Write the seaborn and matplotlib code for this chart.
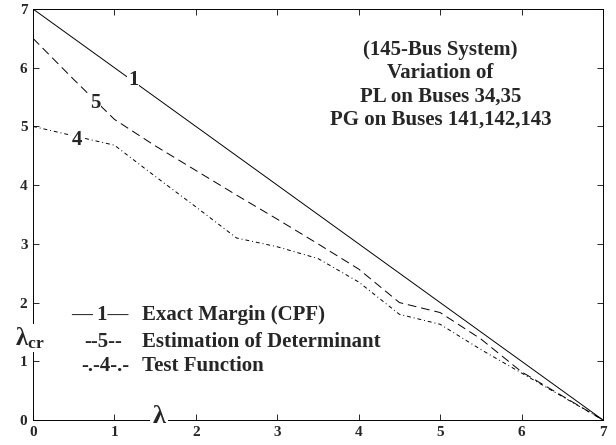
import numpy as np
import pandas as pd
import matplotlib
matplotlib.use("Agg")
import matplotlib.pyplot as plt
import seaborn as sns

# ---- data ----
lam = [0, 0.5, 1, 1.5, 2, 2.5, 3, 3.5, 4, 4.5, 5, 5.5, 6, 6.5, 7]
exact_cpf = [7, 6.5, 6, 5.5, 5, 4.5, 4, 3.5, 3, 2.5, 2, 1.5, 1, 0.5, 0]
estimation_det = [6.5, 5.8, 5.12, 4.67, 4.25, 3.83, 3.42, 3.0, 2.57, 2.0, 1.83, 1.38, 0.82, 0.41, 0]
test_function = [5.0, 4.84, 4.68, 4.15, 3.63, 3.1, 2.95, 2.75, 2.35, 1.8, 1.63, 1.2, 0.8, 0.4, 0]

xticks = [0, 1, 2, 3, 4, 5, 6, 7]
yticks = [0, 1, 2, 3, 4, 5, 6, 7]

title_lines = ["(145-Bus System)", "Variation of", "PL on Buses 34,35", "PG on Buses 141,142,143"]
legend_marks = ["\u2014 1\u2014", "--5--", "-.-4-.-"]
legend_texts = ["Exact Margin (CPF)", "Estimation of Determinant", "Test Function"]
curve_labels = ["1", "5", "4"]
label_pos = [(1.23, 5.79), (0.76, 5.40), (0.54, 4.77)]

df = pd.DataFrame({"lam": lam, "c1": exact_cpf, "c5": estimation_det, "c4": test_function})

sns.set_style("ticks")
plt.rcParams["font.family"] = ["Liberation Serif", "DejaVu Serif"]
plt.rcParams["mathtext.fontset"] = "custom"
plt.rcParams["mathtext.rm"] = "Liberation Serif:bold"
plt.rcParams["mathtext.it"] = "Liberation Serif:bold"
plt.rcParams["mathtext.bf"] = "Liberation Serif:bold"

fig = plt.figure(figsize=(6.16, 4.45), dpi=100)
ax = fig.add_axes([33 / 616, 25 / 445, 570 / 616, 411 / 445])

sns.lineplot(data=df, x="lam", y="c1", ax=ax, color="black", lw=0.7)
sns.lineplot(data=df, x="lam", y="c5", ax=ax, color="black", lw=0.7)
ax.lines[-1].set_dashes([9, 5])
sns.lineplot(data=df, x="lam", y="c4", ax=ax, color="black", lw=0.7)
ax.lines[-1].set_dashes([4, 3, 1, 3])

ax.set_xlim(0, 7)
ax.set_ylim(0, 7)
ax.set_xticks(xticks)
ax.set_yticks(yticks)
ax.set_xticklabels([str(t) for t in xticks], fontweight="bold", fontsize=11)
ax.set_yticklabels([str(t) for t in yticks], fontweight="bold", fontsize=11)
ax.tick_params(direction="in", length=4, width=0.7, top=True, right=True)
ax.tick_params(axis="x", pad=4)
ax.tick_params(axis="y", pad=4)
for s in ax.spines.values():
    s.set_visible(True)
    s.set_linewidth(0.7)
    s.set_color("black")
ax.set_xlabel("")
ax.set_ylabel("")

for lbl, (x, y) in zip(curve_labels, label_pos):
    ax.text(x, y, lbl, fontsize=15, fontweight="bold", ha="center", va="center",
            bbox=dict(facecolor="white", edgecolor="none", pad=0.5))

title_y = [0.900, 0.844, 0.786, 0.730]
for line, yy in zip(title_lines, title_y):
    ax.text(0.715, yy, line, transform=ax.transAxes, ha="center", va="center",
            fontsize=15, fontweight="bold")

mark_x = [0.118, 0.123, 0.126]
leg_y = [0.255, 0.190, 0.131]
for m, t, mx, yy in zip(legend_marks, legend_texts, mark_x, leg_y):
    ax.text(mx, yy, m, transform=ax.transAxes, ha="center", va="center", fontsize=15, fontweight="bold")
    ax.text(0.192, yy, t, transform=ax.transAxes, ha="left", va="center", fontsize=15, fontweight="bold")

ax.text(1.55, 0.05, r"$\lambda$", fontsize=19, ha="center", va="center",
        bbox=dict(facecolor="white", edgecolor="none", pad=1), clip_on=False)
ax.text(-0.04, 1.4, r"$\lambda_{cr}$", fontsize=18, ha="center", va="center",
        bbox=dict(facecolor="white", edgecolor="none", pad=1), clip_on=False)

fig.savefig("out.png", dpi=100)
